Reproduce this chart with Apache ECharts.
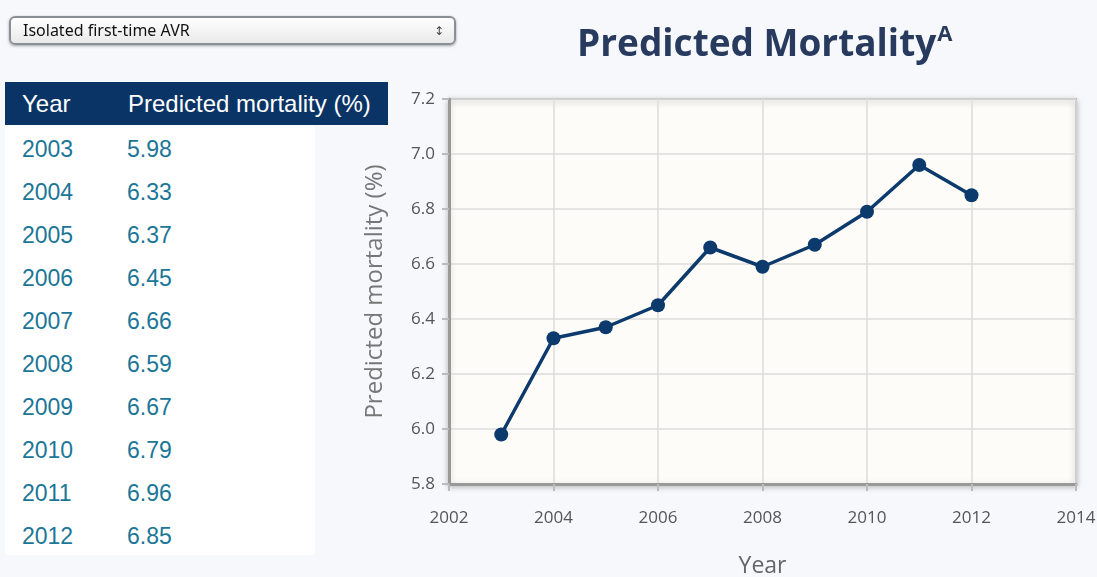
<!DOCTYPE html>
<html>
<head>
<meta charset="utf-8">
<script src="https://cdn.jsdelivr.net/npm/echarts@6/dist/echarts.min.js"></script>
<style>
  html, body { margin: 0; padding: 0; background: #f6f8fb; }
  #wrap { position: relative; width: 1097px; height: 577px; overflow: hidden; }
  #chart { position: absolute; left: 0; top: 0; width: 1097px; height: 577px; }
  .select {
    position: absolute; left: 9px; top: 16px; width: 447px; height: 29px;
    border: 2px solid #8a8f96; border-radius: 6px;
    background: linear-gradient(#ffffff, #e9e9e9);
    box-shadow: 0 1px 3px rgba(0,0,0,0.35);
    font: 16px "Noto Sans", "DejaVu Sans", sans-serif; color: #111;
    line-height: 25px; padding-left: 12px; box-sizing: border-box;
  }
  .select span.arr { position: absolute; right: 10px; top: 0; font-size: 12px; color: #444; }
  .table {
    position: absolute; left: 5px; top: 82px; width: 383px; height: 473px;
    font-family: "Liberation Sans", Arial, sans-serif; font-size: 23px;
  }
  .table .head {
    height: 43px; background: #0b3466; color: #fff; position: relative; font-size: 24px;
  }
  .table .body { background: #fff; width: 310px; height: 430px; position: relative; }
  .cell { position: absolute; white-space: nowrap; }
  .head .cell { top: 8px; }
  .body .cell { color: #1b7697; }
</style>
</head>
<body>
<div id="wrap">
  <div id="chart"></div>
  <div class="select">Isolated first-time AVR<span class="arr"></span></div>
  <div class="table">
    <div class="head"><div class="cell" style="left:17px">Year</div><div class="cell" style="left:123px">Predicted mortality (%)</div></div>
    <div class="body" id="tbody"></div>
  </div>
</div>
<script>
// data
const years = [2003, 2004, 2005, 2006, 2007, 2008, 2009, 2010, 2011, 2012]
const mortality = [5.98, 6.33, 6.37, 6.45, 6.66, 6.59, 6.67, 6.79, 6.96, 6.85]

// table rows
const tbody = document.getElementById('tbody')
years.forEach((y, i) => {
  const top = 11 + i * 43
  tbody.insertAdjacentHTML('beforeend',
    '<div class="cell" style="left:17px;top:' + top + 'px">' + y + '</div>' +
    '<div class="cell" style="left:122px;top:' + top + 'px">' + mortality[i].toFixed(2) + '</div>')
})
document.querySelector('.select .arr').innerHTML = '&#x2195;'

const chart = echarts.init(document.getElementById('chart'))
const axisFont = { color: '#555', fontSize: 17, fontFamily: '"Open Sans", "Noto Sans", sans-serif' }

chart.setOption({
  animation: false,
  backgroundColor: 'transparent',
  title: {
    text: '{t|Predicted Mortality}{s|A}',
    left: 572, top: 19,
    textStyle: {
      rich: {
        t: { fontSize: 37, fontWeight: 'bold', color: '#283b5f', fontFamily: '"Open Sans", sans-serif' },
        s: { fontSize: 22, fontWeight: 'bold', color: '#283b5f', fontFamily: '"Open Sans", sans-serif', verticalAlign: 'top', padding: [0, 0, 20, 1] }
      }
    }
  },
  grid: {
    left: 449, right: 21, top: 99, bottom: 93,
    outerBoundsMode: 'none',
    show: true,
    backgroundColor: '#fdfcf8',
    borderColor: '#a8a8a8',
    borderWidth: 2,
    shadowColor: 'rgba(0,0,0,0.25)',
    shadowBlur: 6,
    shadowOffsetY: 2
  },
  xAxis: {
    type: 'value',
    min: 2002, max: 2014, interval: 2,
    name: 'Year',
    nameLocation: 'middle',
    nameGap: 71,
    nameTextStyle: { color: '#666', fontSize: 23, fontFamily: '"Open Sans", sans-serif' },
    axisLine: { lineStyle: { color: '#999', width: 3 } },
    axisTick: { show: true, length: 7, lineStyle: { color: '#bbb', width: 2 } },
    axisLabel: Object.assign({ margin: 26, formatter: v => String(v) }, axisFont),
    splitLine: { show: true, lineStyle: { color: '#dcdcdc', width: 1.5 } }
  },
  yAxis: {
    type: 'value',
    min: 5.8, max: 7.2, interval: 0.2,
    name: 'Predicted mortality (%)',
    nameLocation: 'middle',
    nameGap: 62,
    nameTextStyle: { color: '#777', fontSize: 24, fontFamily: '"Open Sans", sans-serif' },
    axisLine: { show: true, lineStyle: { color: '#999', width: 3 } },
    axisTick: { show: true, length: 7, lineStyle: { color: '#bbb', width: 2 } },
    axisLabel: Object.assign({ margin: 14, formatter: v => v.toFixed(1) }, axisFont),
    splitLine: { show: true, lineStyle: { color: '#dcdcdc', width: 1.5 } }
  },
  series: [{
    type: 'line',
    data: years.map((y, i) => [y, mortality[i]]),
    symbol: 'circle',
    symbolSize: 14,
    lineStyle: { color: '#0c3a6c', width: 3.5 },
    itemStyle: { color: '#0c3a6c' }
  }]
})
</script>
</body>
</html>
